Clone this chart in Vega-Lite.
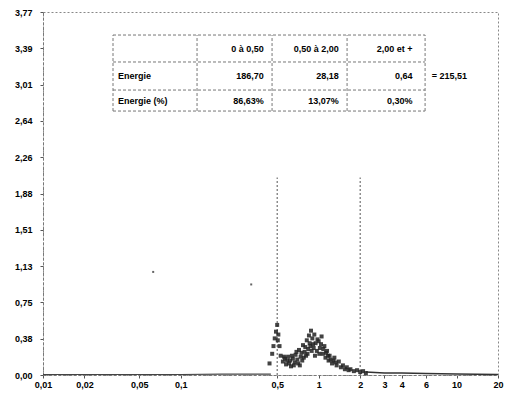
{
  "$schema": "https://vega.github.io/schema/vega-lite/v6.json",
  "width": 455,
  "height": 363,
  "autosize": "none",
  "padding": {"left": 43, "top": 12, "right": 7, "bottom": 21},
  "background": "white",
  "config": {
    "view": {"stroke": "#888", "strokeDash": [2, 2], "strokeWidth": 1},
    "axis": {
      "grid": false,
      "domainColor": "#777",
      "domainDash": [3, 2],
      "tickColor": "#555",
      "tickSize": 3,
      "labelFont": "Liberation Sans",
      "labelFontWeight": "bold",
      "labelFontSize": 9,
      "labelColor": "black",
      "title": null
    },
    "text": {"font": "Liberation Sans", "fontWeight": "bold", "fontSize": 9, "color": "black"}
  },
  "datasets": {
    "stray": [
      {"x": 0.063, "y": 1.07},
      {"x": 0.324, "y": 0.94}
    ],
    "points": [
      {"x": 0.44, "y": 0.12}, {"x": 0.46, "y": 0.22}, {"x": 0.47, "y": 0.3}, {"x": 0.48, "y": 0.38},
      {"x": 0.49, "y": 0.45}, {"x": 0.5, "y": 0.52}, {"x": 0.505, "y": 0.36}, {"x": 0.51, "y": 0.42}, {"x": 0.52, "y": 0.3},
      {"x": 0.53, "y": 0.2}, {"x": 0.55, "y": 0.14}, {"x": 0.56, "y": 0.19}, {"x": 0.57, "y": 0.17}, {"x": 0.58, "y": 0.11},
      {"x": 0.59, "y": 0.15}, {"x": 0.6, "y": 0.19}, {"x": 0.61, "y": 0.12}, {"x": 0.62, "y": 0.15}, {"x": 0.63, "y": 0.09}, {"x": 0.64, "y": 0.2}, {"x": 0.65, "y": 0.17},
      {"x": 0.66, "y": 0.1}, {"x": 0.67, "y": 0.13}, {"x": 0.68, "y": 0.21}, {"x": 0.69, "y": 0.24}, {"x": 0.7, "y": 0.16}, {"x": 0.71, "y": 0.12}, {"x": 0.72, "y": 0.26},
      {"x": 0.73, "y": 0.1}, {"x": 0.74, "y": 0.19}, {"x": 0.75, "y": 0.23}, {"x": 0.76, "y": 0.15}, {"x": 0.77, "y": 0.31}, {"x": 0.78, "y": 0.18},
      {"x": 0.79, "y": 0.24}, {"x": 0.8, "y": 0.29}, {"x": 0.81, "y": 0.2}, {"x": 0.82, "y": 0.36}, {"x": 0.83, "y": 0.22}, {"x": 0.84, "y": 0.27}, {"x": 0.85, "y": 0.41},
      {"x": 0.86, "y": 0.33}, {"x": 0.87, "y": 0.3}, {"x": 0.88, "y": 0.46}, {"x": 0.89, "y": 0.25}, {"x": 0.9, "y": 0.38}, {"x": 0.91, "y": 0.32}, {"x": 0.92, "y": 0.28},
      {"x": 0.93, "y": 0.42}, {"x": 0.94, "y": 0.2}, {"x": 0.95, "y": 0.33}, {"x": 0.97, "y": 0.25}, {"x": 0.98, "y": 0.37}, {"x": 1.0, "y": 0.35},
      {"x": 1.01, "y": 0.22}, {"x": 1.02, "y": 0.28}, {"x": 1.04, "y": 0.32}, {"x": 1.05, "y": 0.4}, {"x": 1.07, "y": 0.22}, {"x": 1.08, "y": 0.27}, {"x": 1.1, "y": 0.3},
      {"x": 1.12, "y": 0.18}, {"x": 1.13, "y": 0.23}, {"x": 1.15, "y": 0.25}, {"x": 1.17, "y": 0.2}, {"x": 1.18, "y": 0.15}, {"x": 1.2, "y": 0.2},
      {"x": 1.22, "y": 0.16}, {"x": 1.25, "y": 0.12}, {"x": 1.28, "y": 0.15}, {"x": 1.3, "y": 0.18}, {"x": 1.33, "y": 0.13}, {"x": 1.35, "y": 0.1}, {"x": 1.4, "y": 0.14},
      {"x": 1.45, "y": 0.08}, {"x": 1.5, "y": 0.1}, {"x": 1.55, "y": 0.06}, {"x": 1.6, "y": 0.08},
      {"x": 1.65, "y": 0.05}, {"x": 1.7, "y": 0.06}, {"x": 1.8, "y": 0.04}, {"x": 1.9, "y": 0.05},
      {"x": 2.0, "y": 0.03}, {"x": 2.1, "y": 0.04}, {"x": 2.2, "y": 0.02}
    ],
    "baseline": [
      {"x": 0.01, "y": 0.005}, {"x": 0.1, "y": 0.005}, {"x": 0.2, "y": 0.01}, {"x": 0.3, "y": 0.01},
      {"x": 0.45, "y": 0.01}
    ],
    "tail": [
      {"x": 2.2, "y": 0.03}, {"x": 3, "y": 0.02}, {"x": 4, "y": 0.02}, {"x": 6, "y": 0.015},
      {"x": 10, "y": 0.01}, {"x": 20, "y": 0.005}
    ],
    "markers": [
      {"x": 0.5, "y": 0, "y2": 2.05},
      {"x": 2, "y": 0, "y2": 2.05}
    ],
    "tableLines": [
      {"x": 0.0322, "x2": 5.916, "y": 3.529, "y2": 3.529},
      {"x": 0.0322, "x2": 5.916, "y": 3.249, "y2": 3.249},
      {"x": 0.0322, "x2": 5.916, "y": 2.958, "y2": 2.958},
      {"x": 0.0322, "x2": 5.916, "y": 2.74, "y2": 2.74},
      {"x": 0.0322, "x2": 0.0322, "y": 2.74, "y2": 3.529},
      {"x": 0.1311, "x2": 0.1311, "y": 2.74, "y2": 3.529},
      {"x": 0.459, "x2": 0.459, "y": 2.74, "y2": 3.529},
      {"x": 1.607, "x2": 1.607, "y": 2.74, "y2": 3.529},
      {"x": 5.916, "x2": 5.916, "y": 2.74, "y2": 3.529}
    ],
    "cellsLeft": [
      {"x": 0.035, "y": 3.104, "t": "Energie"},
      {"x": 0.035, "y": 2.849, "t": "Energie (%)"},
      {"x": 6.6, "y": 3.104, "t": "= 215,51"}
    ],
    "cellsRight": [
      {"x": 0.40, "y": 3.389, "t": "0 à 0,50"},
      {"x": 1.40, "y": 3.389, "t": "0,50 à 2,00"},
      {"x": 4.8, "y": 3.389, "t": "2,00 et +"},
      {"x": 0.40, "y": 3.104, "t": "186,70"},
      {"x": 1.40, "y": 3.104, "t": "28,18"},
      {"x": 4.8, "y": 3.104, "t": "0,64"},
      {"x": 0.40, "y": 2.849, "t": "86,63%"},
      {"x": 1.40, "y": 2.849, "t": "13,07%"},
      {"x": 4.8, "y": 2.849, "t": "0,30%"}
    ]
  },
  "encoding": {
    "x": {
      "field": "x", "type": "quantitative",
      "scale": {"type": "log", "domain": [0.01, 20], "nice": false},
      "axis": {
        "values": [0.01, 0.02, 0.05, 0.1, 0.5, 1, 2, 3, 4, 6, 10, 20],
        "labelExpr": "replace(format(datum.value, '~g'), '.', ',')",
        "labelFlush": false
      }
    },
    "y": {
      "field": "y", "type": "quantitative",
      "scale": {"domain": [0, 3.768], "nice": false, "zero": true},
      "axis": {
        "values": [0, 0.3768, 0.7536, 1.1304, 1.5072, 1.884, 2.2608, 2.6376, 3.0144, 3.3912, 3.768],
        "labelExpr": "replace(format(datum.value, '.2f'), '.', ',')",
        "labelPadding": 8
      }
    }
  },
  "layer": [
    {
      "data": {"name": "tableLines"},
      "mark": {"type": "rule", "color": "#777", "strokeDash": [3, 2], "strokeWidth": 1},
      "encoding": {"x2": {"field": "x2"}, "y2": {"field": "y2"}}
    },
    {
      "data": {"name": "markers"},
      "mark": {"type": "rule", "color": "#555", "strokeDash": [2, 2], "strokeWidth": 1},
      "encoding": {"y2": {"field": "y2"}}
    },
    {
      "data": {"name": "baseline"},
      "mark": {"type": "line", "color": "#444", "strokeWidth": 1.2},
      "encoding": {}
    },
    {
      "data": {"name": "tail"},
      "mark": {"type": "line", "color": "#333", "strokeWidth": 1.5},
      "encoding": {}
    },
    {
      "data": {"name": "stray"},
      "mark": {"type": "point", "shape": "square", "filled": true, "color": "#222", "size": 4},
      "encoding": {}
    },
    {
      "data": {"name": "points"},
      "mark": {"type": "point", "shape": "square", "filled": true, "color": "#222", "size": 16, "opacity": 0.85},
      "encoding": {}
    },
    {
      "data": {"name": "cellsLeft"},
      "mark": {"type": "text", "align": "left", "baseline": "middle"},
      "encoding": {"text": {"field": "t"}}
    },
    {
      "data": {"name": "cellsRight"},
      "mark": {"type": "text", "align": "right", "baseline": "middle"},
      "encoding": {"text": {"field": "t"}}
    }
  ]
}
